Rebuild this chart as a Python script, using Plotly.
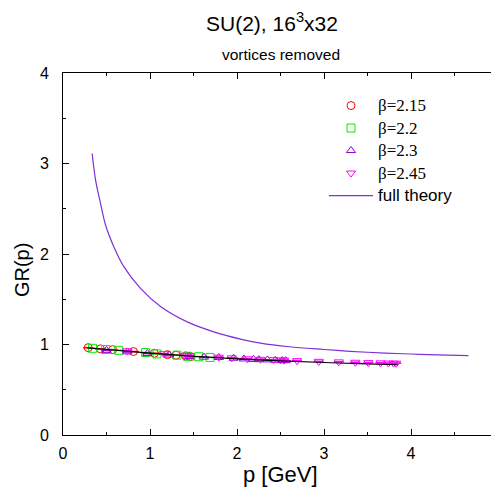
import plotly.graph_objects as go

# beta = 2.15 (red circles)
x215 = [0.29, 0.43, 0.57, 0.81, 1.05, 1.20, 1.30, 1.41, 1.47]
y215 = [0.965, 0.952, 0.943, 0.922, 0.903, 0.888, 0.882, 0.874, 0.866]
# beta = 2.2 (green squares)
x22 = [0.34, 0.49, 0.64, 0.95, 1.08, 1.31, 1.43, 1.56, 1.69]
y22 = [0.958, 0.945, 0.936, 0.911, 0.896, 0.882, 0.870, 0.865, 0.857]
# beta = 2.3 (purple triangles)
x23 = [0.50, 0.74, 0.97, 1.22, 1.45, 1.62, 1.79, 1.96, 2.08, 2.19, 2.25, 2.35, 2.44, 2.52, 2.56]
y23 = [0.935, 0.918, 0.900, 0.884, 0.868, 0.860, 0.856, 0.848, 0.840, 0.835, 0.833, 0.830, 0.826, 0.823, 0.821]
# beta = 2.45 (magenta down-triangles)
x245 = [0.74, 1.16, 1.39, 1.45, 1.79, 1.94, 2.12, 2.27, 2.42, 2.50, 2.54, 2.69, 2.94, 3.17, 3.36, 3.51, 3.65, 3.74, 3.80, 3.83]
y245 = [0.930, 0.898, 0.880, 0.876, 0.860, 0.852, 0.842, 0.836, 0.832, 0.829, 0.827, 0.822, 0.814, 0.808, 0.804, 0.800, 0.797, 0.795, 0.794, 0.793]
# fit through lattice data (black line)
xfit = [0.28, 0.5, 1.0, 1.5, 2.0, 2.5, 3.0, 3.5, 3.85]
yfit = [0.963, 0.945, 0.905, 0.870, 0.842, 0.820, 0.801, 0.786, 0.776]
# full theory curve
xfull = [0.335, 0.374, 0.431, 0.489, 0.584, 0.699, 0.891, 1.121, 1.428, 1.733, 2.04, 2.27, 2.6, 3.0, 3.3, 3.7, 4.0, 4.3, 4.66]
yfull = [3.11, 2.82, 2.56, 2.32, 2.08, 1.86, 1.62, 1.42, 1.25, 1.14, 1.06, 1.015, 0.975, 0.945, 0.925, 0.905, 0.895, 0.886, 0.876]

SERIF = "Liberation Serif"
SANS = "Liberation Sans"

def lab(t, fam):
    return '<span style="font-family:%s;font-size:17px">%s</span>' % (fam, t)

fig = go.Figure()

series = [
    (x215, y215, "circle-open", "#ff0000", lab("β=2.15", SERIF)),
    (x22, y22, "square-open", "#00ee00", lab("β=2.2", SERIF)),
    (x23, y23, "triangle-up-open", "#9400d3", lab("β=2.3", SERIF)),
    (x245, y245, "triangle-down-open", "#ff00ff", lab("β=2.45", SERIF)),
]
for xs, ys, sym, col, name in series:
    fig.add_trace(go.Scatter(
        x=xs, y=ys, mode="markers", name=name,
        marker=dict(symbol=sym, size=8, color=col, line=dict(width=1, color=col)),
        error_y=dict(type="constant", value=0.003, width=5, thickness=1, color=col),
    ))

fig.add_trace(go.Scatter(x=xfull, y=yfull, mode="lines", name=lab("full theory", SANS),
                         line=dict(color="#8030d8", width=1.2, shape="spline")))
fig.add_trace(go.Scatter(x=xfit, y=yfit, mode="lines", showlegend=False,
                         line=dict(color="#000000", width=1.2, shape="spline")))

axis_common = dict(
    showline=True, linecolor="#000000", linewidth=1, mirror="allticks",
    ticks="inside", ticklen=6, tickcolor="#000000", tickwidth=1,
    showgrid=False, zeroline=False,
    tickfont=dict(family=SANS, size=16, color="#000000"),
    minor=dict(ticks="inside", ticklen=3, tickcolor="#000000", showgrid=False),
)

fig.update_xaxes(range=[0, 5], dtick=1, tick0=0, ticklabelstandoff=4, **axis_common)
fig.update_yaxes(range=[0, 4], dtick=1, tick0=0, ticklabelstandoff=10, **axis_common)
fig.update_xaxes(minor_dtick=0.5)
fig.update_yaxes(minor_dtick=0.5)

fig.update_layout(
    width=491, height=481,
    margin=dict(l=55, r=1, t=65, b=54),
    paper_bgcolor="white", plot_bgcolor="white",
    showlegend=True,
    legend=dict(x=0.60, y=0.955, xanchor="left", yanchor="top",
                bgcolor="rgba(0,0,0,0)", borderwidth=0,
                font=dict(family=SANS, size=15, color="#000000"),
                itemwidth=44, tracegroupgap=0),
    annotations=[
        dict(text="SU(2), 16<sup>3</sup>x32", x=0.48, y=1.142, xref="paper", yref="paper",
             showarrow=False, xanchor="center", yanchor="middle",
             font=dict(family=SANS, size=21, color="#000000")),
        dict(text="vortices removed", x=0.50, y=1.05, xref="paper", yref="paper",
             showarrow=False, xanchor="center", yanchor="middle",
             font=dict(family=SANS, size=15.5, color="#000000")),
        dict(text="p [GeV]", x=0.499, y=-0.110, xref="paper", yref="paper",
             showarrow=False, xanchor="center", yanchor="middle",
             font=dict(family=SANS, size=22, color="#000000")),
        dict(text="GR(p)", x=-0.094, y=0.456, xref="paper", yref="paper",
             showarrow=False, xanchor="center", yanchor="middle", textangle=-90,
             font=dict(family=SANS, size=20, color="#000000")),
    ],
)

fig.write_html("out.html")
